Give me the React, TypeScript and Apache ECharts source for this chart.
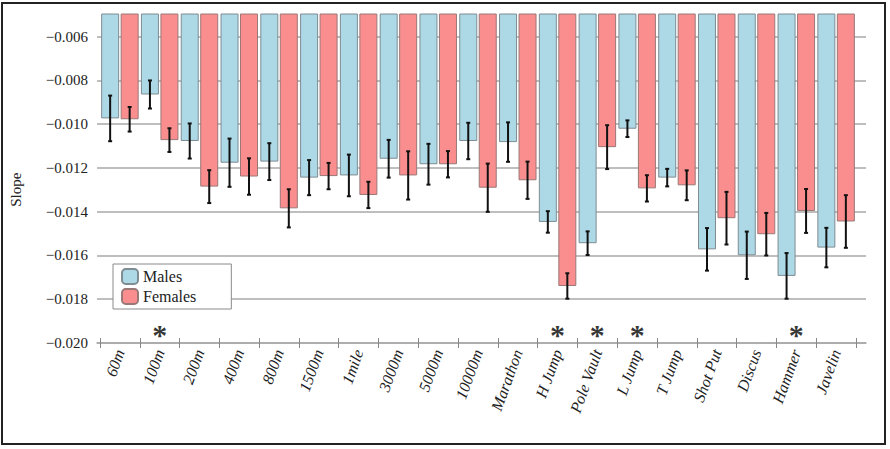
import React, { useEffect, useRef } from "react";
import * as echarts from "echarts";

const categories = ["60m", "100m", "200m", "400m", "800m", "1500m", "1mile", "3000m", "5000m", "10000m", "Marathon", "H Jump", "Pole Vault", "L Jump", "T Jump", "Shot Put", "Discus", "Hammer", "Javelin"];
const malesSlope = [-0.00976, -0.00867, -0.01079, -0.01178, -0.01173, -0.01246, -0.01236, -0.0116, -0.01185, -0.01079, -0.01084, -0.01448, -0.01545, -0.01023, -0.01246, -0.01573, -0.016, -0.01694, -0.01565];
const malesSE = [0.00104, 0.00064, 0.0008, 0.0011, 0.00084, 0.0008, 0.00095, 0.00086, 0.00093, 0.00083, 0.0009, 0.00049, 0.00054, 0.00038, 0.0004, 0.00097, 0.00108, 0.00104, 0.0009];
const femalesSlope = [-0.0098, -0.01075, -0.01287, -0.01241, -0.01386, -0.01239, -0.01325, -0.01236, -0.01185, -0.01292, -0.01258, -0.0174, -0.01107, -0.01295, -0.01281, -0.01431, -0.01504, -0.01398, -0.01446];
const femalesSE = [0.00056, 0.00054, 0.00075, 0.00083, 0.00087, 0.0006, 0.0006, 0.0011, 0.0006, 0.0011, 0.00085, 0.00058, 0.001, 0.0006, 0.00068, 0.0012, 0.00097, 0.001, 0.0012];
const significant = ["100m", "H Jump", "Pole Vault", "L Jump", "Hammer"];

const FONT = "Liberation Serif";
const BAR_W = 18;
const BAR_GAP = 1.5;

function errorSeries(name: string, means: number[], ses: number[], offset: number) {
  return {
    type: "custom",
    name: name + " SE",
    xAxisIndex: 1,
    yAxisIndex: 1,
    z: 5,
    silent: true,
    encode: { x: 0, y: 1 },
    data: means.map((m, i) => [i, m, ses[i]]),
    renderItem: (params: any, api: any) => {
      const i = api.value(0);
      const m = api.value(1);
      const se = api.value(2);
      const top = api.coord([i, m + se]);
      const bot = api.coord([i, m - se]);
      const x = top[0] + offset;
      const st = { stroke: "#111", lineWidth: 2 };
      return {
        type: "group",
        children: [
          { type: "line", shape: { x1: x, y1: top[1], x2: x, y2: bot[1] }, style: st },
          { type: "line", shape: { x1: x - 2, y1: top[1], x2: x + 2, y2: top[1] }, style: st },
          { type: "line", shape: { x1: x - 2, y1: bot[1], x2: x + 2, y2: bot[1] }, style: st },
        ],
      };
    },
  };
}

export default function App() {
  const ref = useRef<HTMLDivElement>(null);
  useEffect(() => {
    if (!ref.current) return;
    const chart = echarts.init(ref.current, undefined, { renderer: "svg" });
    const off = (BAR_W + BAR_GAP) / 2;
    const option: any = {
      animation: false,
      backgroundColor: "#fff",
      textStyle: { fontFamily: FONT },
      grid: [
        { left: 92, right: 24, top: 36.5, bottom: 106 },
        { left: 100, right: 34, top: 14, bottom: 106 },
      ],
      xAxis: [
        {
          type: "value",
          gridIndex: 0,
          min: 0,
          max: 1,
          axisLine: { show: true, lineStyle: { color: "#a8a8a8", width: 1.5 } },
          axisTick: { show: false },
          axisLabel: { show: false },
          splitLine: { show: false },
        },
        {
          type: "category",
          gridIndex: 1,
          data: categories,
          offset: -5,
          axisLine: { show: false },
          axisTick: { show: true, length: 10, lineStyle: { color: "#888", width: 1 } },
          axisLabel: {
            rotate: 70,
            margin: 12,
            padding: [18, 0, 0, 0],
            fontFamily: FONT,
            fontStyle: "italic",
            fontSize: 16,
            color: "#222",
            interval: 0,
          },
        },
      ],
      yAxis: [
        {
          type: "value",
          gridIndex: 0,
          min: -0.02,
          max: -0.006,
          interval: 0.002,
          name: "Slope",
          nameLocation: "middle",
          nameGap: 74,
          nameTextStyle: { fontFamily: FONT, fontSize: 15, color: "#222" },
          axisLine: { show: false },
          axisTick: { show: false },
          axisLabel: {
            margin: 9,
            fontFamily: FONT,
            fontSize: 15,
            color: "#222",
            formatter: (v: number) => (v < 0 ? "\u2212" : "") + Math.abs(v).toFixed(3),
          },
          splitLine: { show: true, lineStyle: { color: "#a8a8a8", width: 1.5 } },
        },
        {
          type: "value",
          gridIndex: 1,
          min: -0.02,
          max: -0.005,
          show: false,
          splitLine: { show: false },
        },
      ],
      legend: {
        left: 113,
        top: 264,
        orient: "vertical",
        data: ["Males", "Females"],
        backgroundColor: "#fff",
        borderColor: "#8a8a8a",
        borderWidth: 1,
        padding: [4, 35, 4, 8],
        itemWidth: 16,
        itemHeight: 15,
        itemGap: 3,
        icon: "roundRect",
        textStyle: { fontFamily: FONT, fontSize: 16, color: "#222" },
      },
      series: [
        {
          type: "bar",
          name: "Males",
          xAxisIndex: 1,
          yAxisIndex: 1,
          data: malesSlope,
          barWidth: BAR_W,
          barGap: ((BAR_GAP / BAR_W) * 100).toFixed(1) + "%",
          clip: true,
          itemStyle: { color: "#add8e6", borderColor: "#7f8c92", borderWidth: 1 },
        },
        {
          type: "bar",
          name: "Females",
          xAxisIndex: 1,
          yAxisIndex: 1,
          data: femalesSlope,
          barWidth: BAR_W,
          clip: true,
          itemStyle: { color: "#fa8e8e", borderColor: "#9a7878", borderWidth: 1 },
        },
        errorSeries("Males", malesSlope, malesSE, -off),
        errorSeries("Females", femalesSlope, femalesSE, off),
        {
          type: "scatter",
          name: "sig",
          xAxisIndex: 1,
          yAxisIndex: 1,
          symbolSize: 1,
          itemStyle: { color: "rgba(0,0,0,0)" },
          silent: true,
          data: significant.map((c) => [c, -0.0193]),
          label: {
            show: true,
            position: "inside",
            formatter: "*",
            fontFamily: FONT,
            fontWeight: "bold",
            fontSize: 30,
            color: "#000",
            offset: [0, 7],
          },
        },
      ],
      graphic: [
        {
          type: "rect",
          shape: { x: 2, y: 3, width: 883, height: 441 },
          style: { fill: "none", stroke: "#222", lineWidth: 2 },
          silent: true,
          z: 100,
        },
      ],
    };
    chart.setOption(option);
    return () => chart.dispose();
  }, []);
  return (
    <div
      ref={ref}
      style={{ position: "fixed", left: 0, top: 0, width: 890, height: 449, background: "#fff" }}
    />
  );
}
